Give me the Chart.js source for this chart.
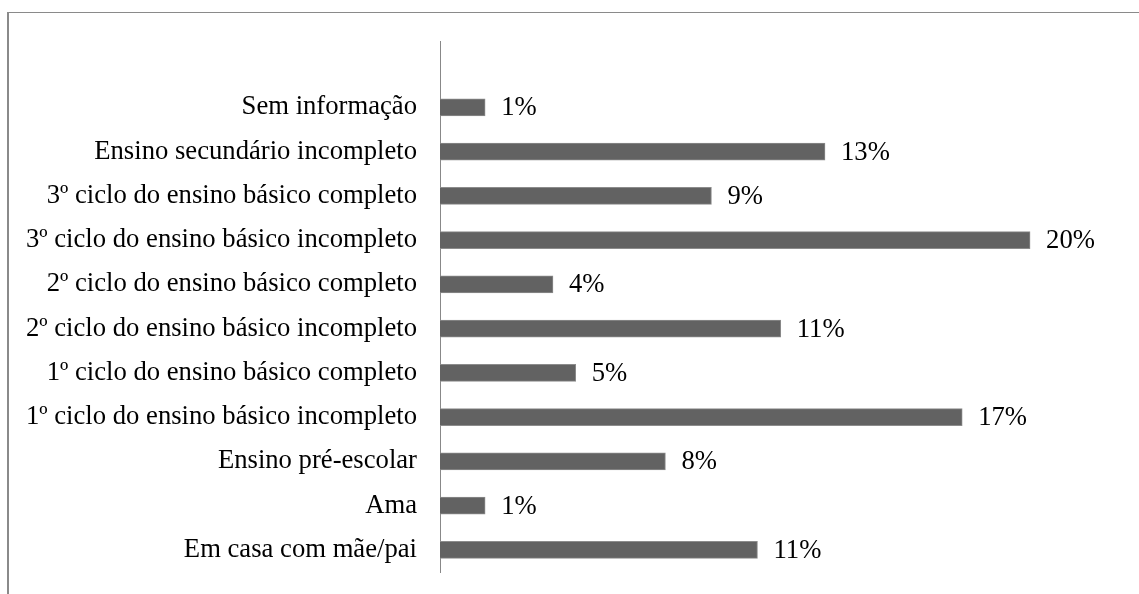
<!DOCTYPE html>
<html>
<head>
<meta charset="utf-8">
<script src="https://cdn.jsdelivr.net/npm/chart.js@4"></script>
<style>
  html, body { margin: 0; padding: 0; background: #fff; overflow: hidden; }
  #wrap { position: absolute; left: 0; top: 0; width: 1139px; height: 594px; }
  #frame { position: absolute; left: 7px; top: 12px; width: 1140px; height: 600px;
           border-left: 2px solid #8a8a8a; border-top: 1px solid #8a8a8a; }
  canvas { position: absolute; left: 0; top: 0; }
</style>
</head>
<body>
<div id="wrap">
  <div id="frame"></div>
  <canvas id="c" width="1139" height="594"></canvas>
</div>
<script>
const categories = [
  "",
  "Sem informação",
  "Ensino secundário incompleto",
  "3º ciclo do ensino básico completo",
  "3º ciclo do ensino básico incompleto",
  "2º ciclo do ensino básico completo",
  "2º ciclo do ensino básico incompleto",
  "1º ciclo do ensino básico completo",
  "1º ciclo do ensino básico incompleto",
  "Ensino pré-escolar",
  "Ama",
  "Em casa com mãe/pai"
];
const values = [null, 1.53, 13.05, 9.20, 20.0, 3.83, 11.55, 4.60, 17.70, 7.64, 1.53, 10.76];
const valueLabels = ["", "1%", "13%", "9%", "20%", "4%", "11%", "5%", "17%", "8%", "1%", "11%"];

const FONT = '"Liberation Serif", "Times New Roman", serif';

const labelPlugin = {
  id: 'valueLabels',
  afterDatasetsDraw(chart) {
    const ctx = chart.ctx;
    const meta = chart.getDatasetMeta(0);
    ctx.save();
    ctx.font = '26.67px ' + FONT;
    ctx.fillStyle = '#000';
    ctx.textAlign = 'left';
    ctx.textBaseline = 'middle';
    meta.data.forEach((bar, i) => {
      if (values[i] == null) return;
      ctx.fillText(valueLabels[i], bar.x + 16, bar.y + 1);
    });
    ctx.restore();
  }
};

new Chart(document.getElementById('c'), {
  type: 'bar',
  data: {
    labels: categories,
    datasets: [{
      data: values,
      backgroundColor: '#626262',
      borderColor: '#8c8c8c',
      borderWidth: 1,
      barThickness: 17
    }]
  },
  options: {
    indexAxis: 'y',
    responsive: false,
    animation: false,
    layout: { padding: { left: 0, right: 39, top: 41, bottom: 22 } },
    plugins: { legend: { display: false }, tooltip: { enabled: false } },
    scales: {
      x: { display: false, min: 0, max: 22.37 },
      y: {
        afterFit(scale) { scale.width = 440; scale.paddingTop = 0; scale.paddingBottom = 0; },
        grid: { display: false, drawTicks: false },
        border: { display: true, color: '#888', width: 1 },
        ticks: {
          padding: 23,
          color: '#000',
          font: { family: FONT, size: 26.67 }
        }
      }
    }
  },
  plugins: [labelPlugin]
});
</script>
</body>
</html>
